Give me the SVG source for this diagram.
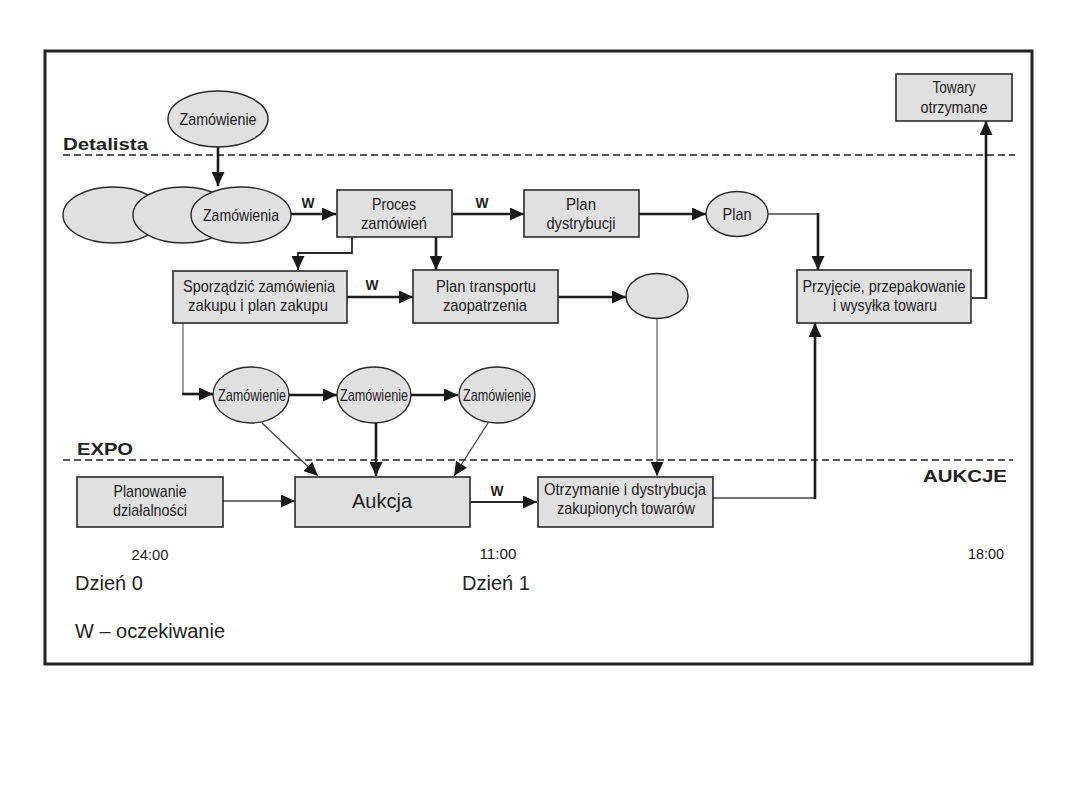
<svg xmlns="http://www.w3.org/2000/svg" width="1080" height="810" viewBox="0 0 1080 810">
<style>
.box{fill:#e0e0e0;stroke:#2a2a2a;stroke-width:1.6}
.ell{fill:#e0e0e0;stroke:#2a2a2a;stroke-width:1.4}
.t{font-family:"Liberation Sans",Arial,sans-serif;font-size:17px;fill:#222;text-anchor:middle}
.tn{font-family:"Liberation Sans",Arial,sans-serif;font-size:15px;fill:#222;text-anchor:middle}
.lbl{font-family:"Liberation Sans",Arial,sans-serif;font-size:17px;font-weight:bold;fill:#222}
.w{font-family:"Liberation Sans",Arial,sans-serif;font-size:15px;font-weight:bold;fill:#222;text-anchor:middle}
.big{font-family:"Liberation Sans",Arial,sans-serif;font-size:20px;fill:#222}
.thick{fill:none;stroke:#1a1a1a;stroke-width:2.6}
.med{fill:none;stroke:#2a2a2a;stroke-width:1.8}
.thin{fill:none;stroke:#444;stroke-width:1.3}
.gray{fill:none;stroke:#777;stroke-width:1.4}
.dash{fill:none;stroke:#222;stroke-width:1.3;stroke-dasharray:7 4}
</style>
<defs>
<marker id="ah" viewBox="0 0 14 13" refX="14" refY="6.5" markerWidth="14" markerHeight="13" markerUnits="userSpaceOnUse" orient="auto">
<path d="M0,0 L14,6.5 L0,13 z" fill="#1a1a1a"/>
</marker>
</defs>
<rect x="0" y="0" width="1080" height="810" fill="#ffffff"/>
<rect x="45" y="51" width="987" height="613" fill="none" stroke="#222" stroke-width="3"/>

<g id="lanes">
<line class="dash" x1="63" y1="155" x2="1015" y2="155"/>
<line class="dash" x1="63" y1="460" x2="1013" y2="460"/>
<text class="lbl" x="63" y="150" textLength="85" lengthAdjust="spacingAndGlyphs">Detalista</text>
<text class="lbl" x="77" y="455" textLength="56" lengthAdjust="spacingAndGlyphs">EXPO</text>
<text class="lbl" x="923" y="482" textLength="84" lengthAdjust="spacingAndGlyphs">AUKCJE</text>
</g>

<g id="connectors">
<path class="thick" d="M218,147 V186" marker-end="url(#ah)"/>
<path class="thick" d="M291,214 H336" marker-end="url(#ah)"/>
<path class="thick" d="M452,214 H524" marker-end="url(#ah)"/>
<path class="thick" d="M639,214 H706" marker-end="url(#ah)"/>
<path class="thin" d="M768,214 H818"/>
<path class="thick" d="M818,213 V270" marker-end="url(#ah)"/>
<path class="med" d="M972,298 H986"/>
<path class="thick" d="M986,299 V121" marker-end="url(#ah)"/>
<path class="med" d="M352,237 V253 H298 V270" marker-end="url(#ah)"/>
<path class="thick" d="M436,237 V270" marker-end="url(#ah)"/>
<path class="thick" d="M347,297 H413" marker-end="url(#ah)"/>
<path class="thick" d="M558,297 H626" marker-end="url(#ah)"/>
<path class="gray" d="M657,318 V476" marker-end="url(#ah)"/>
<path class="gray" d="M183,323 V394"/>
<path class="thick" d="M182,394 H213" marker-end="url(#ah)"/>
<path class="thick" d="M289,395 H337" marker-end="url(#ah)"/>
<path class="thick" d="M411,395 H458" marker-end="url(#ah)"/>
<path class="thin" d="M262,423 L318,476" marker-end="url(#ah)"/>
<path class="thick" d="M376,423 V476" marker-end="url(#ah)"/>
<path class="thin" d="M488,423 L454,476" marker-end="url(#ah)"/>
<path class="thin" d="M223,501 H295" marker-end="url(#ah)"/>
<path class="med" d="M470,502 H537" marker-end="url(#ah)"/>
<path class="thin" d="M713,498 H815"/>
<path class="thick" d="M815,499 V323" marker-end="url(#ah)"/>
<text class="w" x="308" y="208" textLength="13" lengthAdjust="spacingAndGlyphs">W</text>
<text class="w" x="482" y="208" textLength="13" lengthAdjust="spacingAndGlyphs">W</text>
<text class="w" x="372" y="290" textLength="13" lengthAdjust="spacingAndGlyphs">W</text>
<text class="w" x="497" y="496" textLength="13" lengthAdjust="spacingAndGlyphs">W</text>
</g>

<g id="zamowienie-top">
<ellipse class="ell" cx="218" cy="119" rx="50" ry="28"/>
<text class="t" x="218" y="125" textLength="77" lengthAdjust="spacingAndGlyphs">Zamówienie</text>
</g>

<g id="zamowienia">
<ellipse class="ell" cx="113" cy="215" rx="50" ry="28"/>
<ellipse class="ell" cx="183" cy="215" rx="50" ry="28"/>
<ellipse class="ell" cx="241" cy="215" rx="50" ry="28"/>
<text class="t" x="241" y="221" textLength="76" lengthAdjust="spacingAndGlyphs">Zamówienia</text>
</g>

<g id="proces">
<rect class="box" x="337" y="190" width="115" height="47"/>
<text class="t" x="394" y="210" textLength="44" lengthAdjust="spacingAndGlyphs">Proces</text>
<text class="t" x="394" y="229" textLength="66" lengthAdjust="spacingAndGlyphs">zamówień</text>
</g>

<g id="plan-dystrybucji">
<rect class="box" x="524" y="190" width="115" height="47"/>
<text class="t" x="581" y="210" textLength="30" lengthAdjust="spacingAndGlyphs">Plan</text>
<text class="t" x="581" y="229" textLength="69" lengthAdjust="spacingAndGlyphs">dystrybucji</text>
</g>

<g id="plan">
<ellipse class="ell" cx="737" cy="214" rx="31" ry="22.5"/>
<text class="t" x="737" y="220" textLength="29" lengthAdjust="spacingAndGlyphs">Plan</text>
</g>

<g id="towary">
<rect class="box" x="896" y="74" width="116" height="47"/>
<text class="t" x="954" y="93" textLength="43" lengthAdjust="spacingAndGlyphs">Towary</text>
<text class="t" x="954" y="113" textLength="67" lengthAdjust="spacingAndGlyphs">otrzymane</text>
</g>

<g id="przyjecie">
<rect class="box" x="797" y="270" width="174" height="53"/>
<text class="t" x="884" y="292" textLength="163" lengthAdjust="spacingAndGlyphs">Przyjęcie, przepakowanie</text>
<text class="t" x="885" y="311" textLength="104" lengthAdjust="spacingAndGlyphs">i wysyłka towaru</text>
</g>

<g id="sporzadzic">
<rect class="box" x="173" y="271" width="174" height="52"/>
<text class="t" x="259" y="292" textLength="152" lengthAdjust="spacingAndGlyphs">Sporządzić zamówienia</text>
<text class="t" x="258" y="311" textLength="140" lengthAdjust="spacingAndGlyphs">zakupu i plan zakupu</text>
</g>

<g id="plan-transportu">
<rect class="box" x="413" y="270" width="145" height="53"/>
<text class="t" x="486" y="292" textLength="100" lengthAdjust="spacingAndGlyphs">Plan transportu</text>
<text class="t" x="485" y="311" textLength="84" lengthAdjust="spacingAndGlyphs">zaopatrzenia</text>
</g>

<g id="ellipse-empty">
<ellipse class="ell" cx="657" cy="296" rx="31" ry="22.5"/>
</g>

<g id="zamowienie-1">
<ellipse class="ell" cx="251" cy="395" rx="38" ry="28"/>
<text class="t" x="252" y="401" textLength="68" lengthAdjust="spacingAndGlyphs">Zamówienie</text>
</g>
<g id="zamowienie-2">
<ellipse class="ell" cx="374" cy="395" rx="37" ry="28"/>
<text class="t" x="374" y="401" textLength="68" lengthAdjust="spacingAndGlyphs">Zamówienie</text>
</g>
<g id="zamowienie-3">
<ellipse class="ell" cx="497" cy="395" rx="38" ry="28"/>
<text class="t" x="497" y="401" textLength="68" lengthAdjust="spacingAndGlyphs">Zamówienie</text>
</g>

<g id="planowanie">
<rect class="box" x="77" y="477" width="146" height="50"/>
<text class="t" x="150" y="497" textLength="73" lengthAdjust="spacingAndGlyphs">Planowanie</text>
<text class="t" x="150" y="516" textLength="74" lengthAdjust="spacingAndGlyphs">działalności</text>
</g>

<g id="aukcja">
<rect class="box" x="295" y="477" width="175" height="50"/>
<text class="big" x="382" y="508" text-anchor="middle">Aukcja</text>
</g>

<g id="otrzymanie">
<rect class="box" x="538" y="477" width="175" height="50"/>
<text class="t" x="625" y="495" textLength="162" lengthAdjust="spacingAndGlyphs">Otrzymanie i dystrybucja</text>
<text class="t" x="626" y="514" textLength="138" lengthAdjust="spacingAndGlyphs">zakupionych towarów</text>
</g>

<g id="timeline">
<text class="tn" x="150" y="560" textLength="37" lengthAdjust="spacingAndGlyphs">24:00</text>
<text class="tn" x="498" y="559" textLength="37" lengthAdjust="spacingAndGlyphs">11:00</text>
<text class="tn" x="986" y="559" textLength="36" lengthAdjust="spacingAndGlyphs">18:00</text>
<text class="big" x="75" y="590">Dzień 0</text>
<text class="big" x="462" y="590">Dzień 1</text>
<text class="big" x="75" y="638">W – oczekiwanie</text>
</g>
</svg>
